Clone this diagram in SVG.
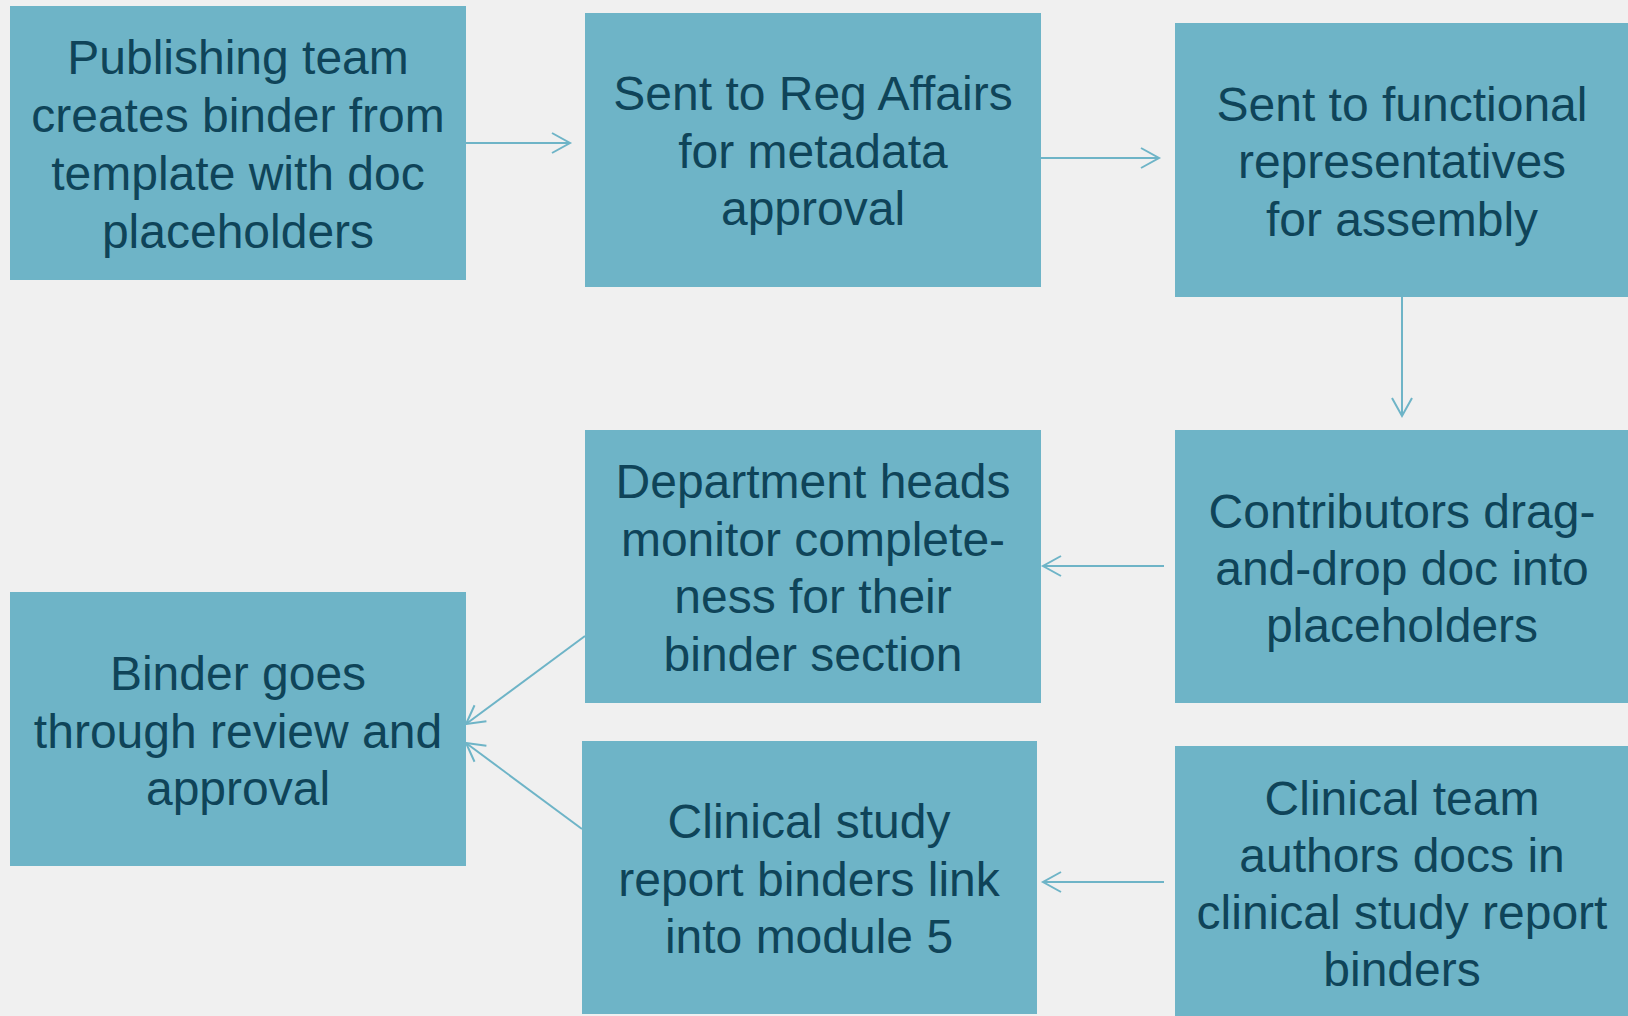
<svg xmlns="http://www.w3.org/2000/svg" width="1628" height="1016" viewBox="0 0 1628 1016">
<style>
.box{fill:#6EB4C7;}
.lbl{font-family:"Liberation Sans",Arial,sans-serif;font-size:48px;fill:#0F4459;text-anchor:middle;}
.conn{stroke:#6EB4C7;stroke-width:2;fill:none;marker-end:url(#arr);}
</style>
<defs>
<marker id="arr" markerUnits="userSpaceOnUse" viewBox="-20 -12 22 24" markerWidth="22" markerHeight="24" refX="0" refY="0" orient="auto" overflow="visible">
<path d="M-18,-10 L0,0 L-18,10" fill="none" stroke="#6EB4C7" stroke-width="2"/>
</marker>
</defs>
<rect width="1628" height="1016" fill="#F0F0F0"/>
<g id="connectors">
<line class="conn" x1="466" y1="143" x2="570" y2="143"/>
<line class="conn" x1="1041" y1="158" x2="1159" y2="158"/>
<line class="conn" x1="1402" y1="297" x2="1402" y2="416"/>
<line class="conn" x1="1164" y1="566" x2="1043" y2="566"/>
<line class="conn" x1="1164" y1="882" x2="1043" y2="882"/>
<line class="conn" x1="585" y1="636" x2="466" y2="724"/>
<line class="conn" x1="582" y1="829" x2="466" y2="743"/>
</g>
<g id="n1"><rect class="box" x="10" y="6" width="456" height="274"/>
<text class="lbl"><tspan x="238" y="74">Publishing team</tspan><tspan x="238" y="132">creates binder from</tspan><tspan x="238" y="190">template with doc</tspan><tspan x="238" y="248">placeholders</tspan></text></g>
<g id="n2"><rect class="box" x="585" y="13" width="456" height="274"/>
<text class="lbl"><tspan x="813" y="110">Sent to Reg Affairs</tspan><tspan x="813" y="168">for metadata</tspan><tspan x="813" y="225">approval</tspan></text></g>
<g id="n3"><rect class="box" x="1175" y="23" width="456" height="274"/>
<text class="lbl"><tspan x="1402" y="121">Sent to functional</tspan><tspan x="1402" y="178">representatives</tspan><tspan x="1402" y="236">for assembly</tspan></text></g>
<g id="n4"><rect class="box" x="1175" y="430" width="456" height="273"/>
<text class="lbl"><tspan x="1402" y="528">Contributors drag-</tspan><tspan x="1402" y="585">and-drop doc into</tspan><tspan x="1402" y="642">placeholders</tspan></text></g>
<g id="n5"><rect class="box" x="1175" y="746" width="456" height="274"/>
<text class="lbl"><tspan x="1402" y="815">Clinical team</tspan><tspan x="1402" y="872">authors docs in</tspan><tspan x="1402" y="929">clinical study report</tspan><tspan x="1402" y="986">binders</tspan></text></g>
<g id="n6"><rect class="box" x="585" y="430" width="456" height="273"/>
<text class="lbl"><tspan x="813" y="498">Department heads</tspan><tspan x="813" y="556">monitor complete-</tspan><tspan x="813" y="613">ness for their</tspan><tspan x="813" y="671">binder section</tspan></text></g>
<g id="n7"><rect class="box" x="582" y="741" width="455" height="273"/>
<text class="lbl"><tspan x="809" y="838">Clinical study</tspan><tspan x="809" y="896">report binders link</tspan><tspan x="809" y="953">into module 5</tspan></text></g>
<g id="n8"><rect class="box" x="10" y="592" width="456" height="274"/>
<text class="lbl"><tspan x="238" y="690">Binder goes</tspan><tspan x="238" y="748">through review and</tspan><tspan x="238" y="805">approval</tspan></text></g>
</svg>
